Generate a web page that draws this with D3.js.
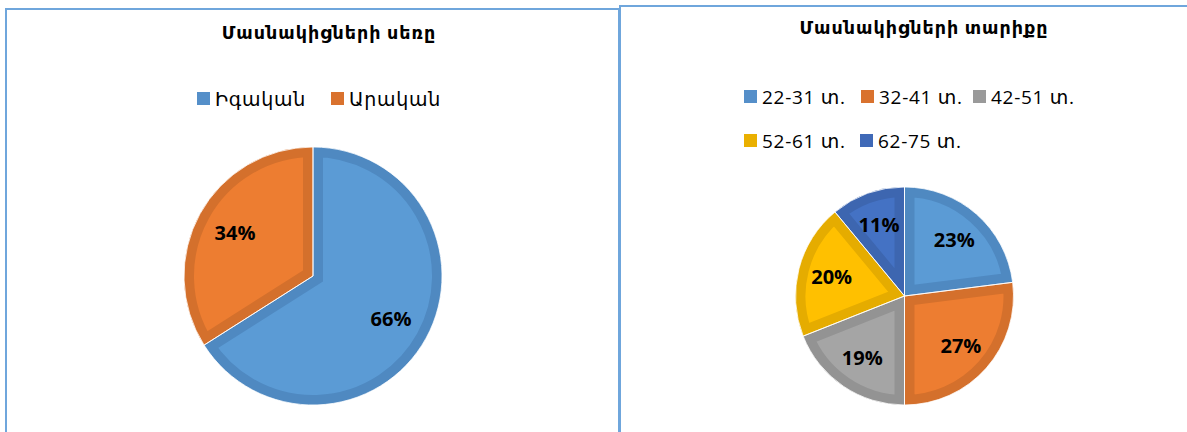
<!DOCTYPE html>
<html>
<head>
<meta charset="utf-8">
<script src="https://cdn.jsdelivr.net/npm/d3@7"></script>
<style>
  body { margin: 0; background: #fff; }
  text { font-family: "Open Sans", "DejaVu Sans", sans-serif; }
</style>
</head>
<body>
<div id="container"></div>
<script>
/* DATA */
const sexTitle = "Մասնակիցների սեռը";
const sexLabels = ["Իգական", "Արական"];
const sexValues = [66, 34];

const ageTitle = "Մասնակիցների տարիքը";
const ageLabels = ["22-31 տ.", "32-41 տ.", "42-51 տ.", "52-61 տ.", "62-75 տ."];
const ageValues = [23, 27, 19, 20, 11];

/* CONSTANTS */
const width = 1187, height = 432;
const fills = ["#5B9BD5", "#ED7D31", "#A5A5A5", "#FFC000", "#4472C4"];
const bands = ["#4F89C1", "#D4702C", "#939393", "#E5AC00", "#3D66B0"];
const legendFills = ["#558FC9", "#D9722E", "#9A9A9A", "#EAB000", "#3F69B7"];

const svg = d3.select("#container")
  .append("svg")
  .attr("width", width)
  .attr("height", height);

const defs = svg.append("defs");

// panel borders
svg.append("path")
  .attr("d", "M6,434 V9 H619 V434")
  .attr("fill", "none").attr("stroke", "#6FA6DC").attr("stroke-width", 2);
svg.append("path")
  .attr("d", "M620,434 V6 H1190")
  .attr("fill", "none").attr("stroke", "#6FA6DC").attr("stroke-width", 2);

function drawPie(opts) {
  const g = svg.append("g").attr("transform", `translate(${opts.cx},${opts.cy})`);
  const pie = d3.pie().sort(null).value(d => d)(opts.values);
  const arc = d3.arc().innerRadius(0).outerRadius(opts.r);
  const labelArc = d3.arc().innerRadius(opts.r * 0.69).outerRadius(opts.r * 0.69);

  // each slice gets its own clip so the wide stroke only shows inside it
  pie.forEach((p, i) => {
    defs.append("clipPath").attr("id", `${opts.id}-clip-${i}`)
      .append("path")
      .attr("d", arc(p));
  });

  g.selectAll("path.slice")
    .data(pie)
    .join("path")
    .attr("class", "slice")
    .attr("d", arc)
    .attr("clip-path", (d, i) => `url(#${opts.id}-clip-${i})`)
    .attr("fill", (d, i) => fills[i])
    .attr("stroke", (d, i) => bands[i])
    .attr("stroke-width", opts.band * 2);

  g.selectAll("path.edge")
    .data(pie)
    .join("path")
    .attr("class", "edge")
    .attr("d", arc)
    .attr("fill", "none")
    .attr("stroke", "#fff")
    .attr("stroke-width", 0.8);

  g.selectAll("text.pct")
    .data(pie)
    .join("text")
    .attr("class", "pct")
    .attr("transform", d => `translate(${labelArc.centroid(d)})`)
    .attr("text-anchor", "middle")
    .attr("dy", "0.35em")
    .attr("font-size", 20)
    .attr("font-weight", "bold")
    .attr("fill", "#000")
    .text(d => d.data + "%");
}

function drawTitle(text, x, y) {
  svg.append("text")
    .attr("x", x).attr("y", y)
    .attr("text-anchor", "middle")
    .attr("font-size", 17.5)
    .attr("letter-spacing", 1)
    .attr("font-weight", "bold")
    .attr("fill", "#000")
    .text(text);
}

function drawLegend(labels, items) {
  items.forEach((it, i) => {
    const g = svg.append("g").attr("transform", `translate(${it[0]},${it[1]})`);
    g.append("rect")
      .attr("x", 0).attr("y", -6)
      .attr("width", 13).attr("height", 13)
      .attr("fill", legendFills[it[2]]);
    g.append("text")
      .attr("x", 18).attr("y", 1)
      .attr("dy", "0.35em")
      .attr("font-size", 19)
      .attr("letter-spacing", 0.7)
      .attr("fill", "#000")
      .text(labels[i]);
  });
}

drawTitle(sexTitle, 329, 39);
drawLegend(sexLabels, [[197, 98, 0], [331, 98, 1]]);
drawPie({ id: "sex", values: sexValues, cx: 313, cy: 276, r: 129, band: 10 });

drawTitle(ageTitle, 924, 34);
drawLegend(ageLabels, [[744, 96, 0], [861, 96, 1], [973, 96, 2], [744, 140, 3], [860, 140, 4]]);
drawPie({ id: "age", values: ageValues, cx: 904.5, cy: 296, r: 109, band: 10 });
</script>
</body>
</html>
